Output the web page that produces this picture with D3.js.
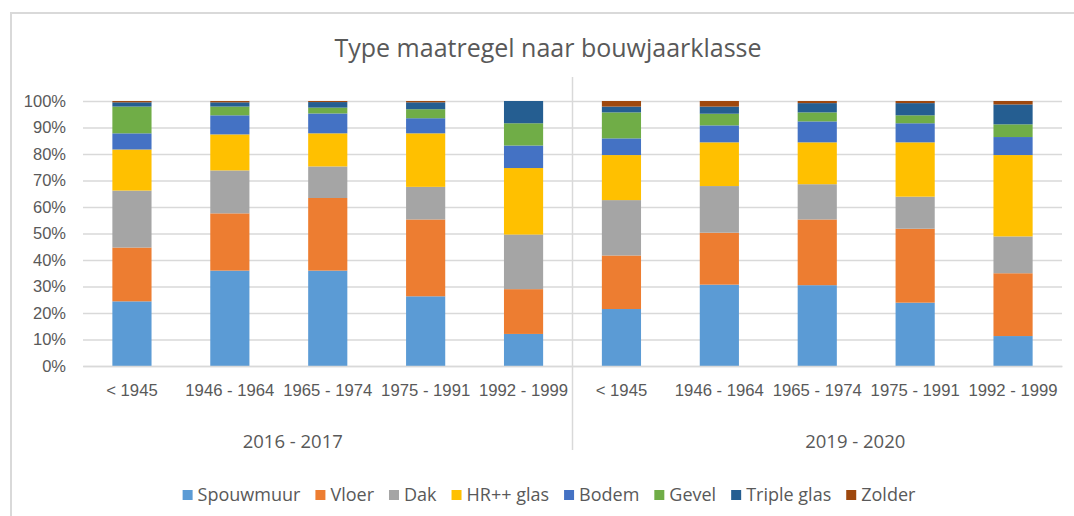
<!DOCTYPE html>
<html>
<head>
<meta charset="utf-8">
<script src="https://cdn.jsdelivr.net/npm/d3@7"></script>
<style>
  body { margin: 0; background: #fff; }
  svg { display: block; font-family: "Open Sans", "Noto Sans", sans-serif; }
</style>
</head>
<body>
<svg id="chart" width="1074" height="516"></svg>
<script>
// periodes en bouwjaarklassen
const periods = ["2016 - 2017", "2019 - 2020"];
const bouwjaren = ["< 1945", "1946 - 1964", "1965 - 1974", "1975 - 1991", "1992 - 1999"];
const maatregelen = ["Spouwmuur", "Vloer", "Dak", "HR++ glas", "Bodem", "Gevel", "Triple glas", "Zolder"];
const kleuren = ["#5B9BD5", "#ED7D31", "#A5A5A5", "#FFC000", "#4472C4", "#70AD47", "#255E91", "#9E480E"];
const yTicks = [0, 0.1, 0.2, 0.3, 0.4, 0.5, 0.6, 0.7, 0.8, 0.9, 1];

// aandelen per maatregel (%), eerst 2016-2017 dan 2019-2020
const spouwmuur = [24.4, 36.0, 36.0, 26.3, 12.1, 21.5, 30.7, 30.5, 23.9, 11.3];
const vloer     = [20.3, 21.6, 27.4, 29.0, 16.9, 20.2, 19.6, 24.8, 27.9, 23.7];
const dak       = [21.5, 16.2, 11.9, 12.3, 20.6, 20.9, 17.6, 13.3, 12.1, 13.9];
const hrGlas    = [15.5, 13.6, 12.5, 20.2, 25.1, 17.0, 16.5, 15.8, 20.5, 30.7];
const bodem     = [6.1, 7.2, 7.5, 5.7, 8.5, 6.3, 6.4, 7.9, 7.2, 6.8];
const gevel     = [10.1, 3.3, 2.2, 3.4, 8.4, 9.8, 4.4, 3.4, 3.0, 4.8];
const tripleGlas = [1.6, 1.6, 2.1, 2.6, 8.4, 2.2, 2.7, 3.5, 4.6, 7.5];
const zolder    = [0.5, 0.5, 0.4, 0.5, 0.0, 2.1, 2.1, 0.8, 0.8, 1.3];

const series = [spouwmuur, vloer, dak, hrGlas, bodem, gevel, tripleGlas, zolder];

// tabel voor d3.stack
const rows = [];
periods.forEach((p, pi) => {
    bouwjaren.forEach((b, bi) => {
        const i = pi * bouwjaren.length + bi;
        const row = {key: p + "|" + b, period: p, bouwjaar: b};
        maatregelen.forEach((m, mi) => row[m] = series[mi][i]);
        rows.push(row);
    });
});

const svg = d3.select("#chart");
const textColor = "#595959";
const gridColor = "#D9D9D9";

const margin = {top: 101, right: 12, bottom: 150, left: 83};
const width = 1074 - margin.left - margin.right;
const height = 516 - margin.top - margin.bottom;

// kader van de grafiek
svg.append("rect")
    .attr("x", 11).attr("y", 13)
    .attr("width", 1090).attr("height", 520)
    .attr("fill", "none")
    .attr("stroke", gridColor)
    .attr("stroke-width", 2);

// titel
svg.append("text")
    .attr("x", 548).attr("y", 57)
    .attr("text-anchor", "middle")
    .attr("fill", textColor)
    .style("font-size", "25px")
    .text("Type maatregel naar bouwjaarklasse");

const g = svg.append("g").attr("transform", `translate(${margin.left},${margin.top})`);

const x = d3.scaleBand()
    .domain(rows.map(d => d.key))
    .range([0, width])
    .paddingInner(0.6)
    .paddingOuter(0.3);

const y = d3.scaleLinear().domain([0, 1]).range([height, 0]);

const color = d3.scaleOrdinal().domain(maatregelen).range(kleuren);

// y-as met rasterlijnen
const yAxis = g.append("g")
    .call(d3.axisLeft(y).tickValues(yTicks).tickFormat(d3.format(".0%")).tickSize(-width).tickPadding(17));
yAxis.select(".domain").remove();
yAxis.selectAll(".tick line").attr("stroke", gridColor).attr("stroke-width", 1.3);
yAxis.selectAll(".tick text").attr("fill", textColor).style("font-size", "16.5px");

// scheidingslijn tussen de periodes
const splitX = x(rows[bouwjaren.length].key) - x.step() * x.paddingInner() / 2;
g.append("line")
    .attr("x1", splitX).attr("x2", splitX)
    .attr("y1", -24).attr("y2", height + 84)
    .attr("stroke", gridColor)
    .attr("stroke-width", 1.5);

// gestapelde staven
const stack = d3.stack().keys(maatregelen).offset(d3.stackOffsetExpand);
const layers = stack(rows);

g.selectAll(".layer")
    .data(layers)
    .join("g")
    .attr("class", "layer")
    .attr("fill", d => color(d.key))
    .selectAll("rect")
    .data(d => d)
    .join("rect")
    .attr("x", d => x(d.data.key))
    .attr("y", d => y(d[1]))
    .attr("width", x.bandwidth())
    .attr("height", d => y(d[0]) - y(d[1]));

// x-as: bouwjaarklassen
const xAxis = g.append("g")
    .attr("transform", `translate(0,${height})`)
    .call(d3.axisBottom(x).tickSize(0).tickPadding(18).tickFormat(k => k.split("|")[1]));
xAxis.select(".domain").attr("stroke", gridColor).attr("stroke-width", 1.5);
xAxis.selectAll(".tick text").attr("fill", textColor).style("font-size", "16.7px");

// x-as: periodes
const groupOffset = [-35, 38];
periods.forEach((p, pi) => {
    const mid = x(rows[pi * bouwjaren.length + 2].key) + x.bandwidth() / 2;
    g.append("text")
        .attr("x", mid + groupOffset[pi])
        .attr("y", height + 82)
        .attr("text-anchor", "middle")
        .attr("fill", textColor)
        .style("font-size", "18.5px")
        .text(p);
});

// legenda
const legend = svg.append("g").attr("transform", "translate(0,495)");
const items = legend.selectAll("g")
    .data(maatregelen)
    .join("g");
items.append("rect")
    .attr("y", -5)
    .attr("width", 10).attr("height", 10)
    .attr("fill", d => color(d));
items.append("text")
    .attr("x", 15)
    .attr("y", 6)
    .attr("fill", textColor)
    .style("font-size", "18px")
    .text(d => d);

let pos = 0;
const widths = [];
items.each(function() {
    widths.push(15 + this.querySelector("text").getComputedTextLength());
});
const gap = 15;
const total = d3.sum(widths) + gap * (widths.length - 1);
pos = 549 - total / 2;
items.attr("transform", (d, i) => {
    const t = `translate(${pos},0)`;
    pos += widths[i] + gap;
    return t;
});
</script>
</body>
</html>
